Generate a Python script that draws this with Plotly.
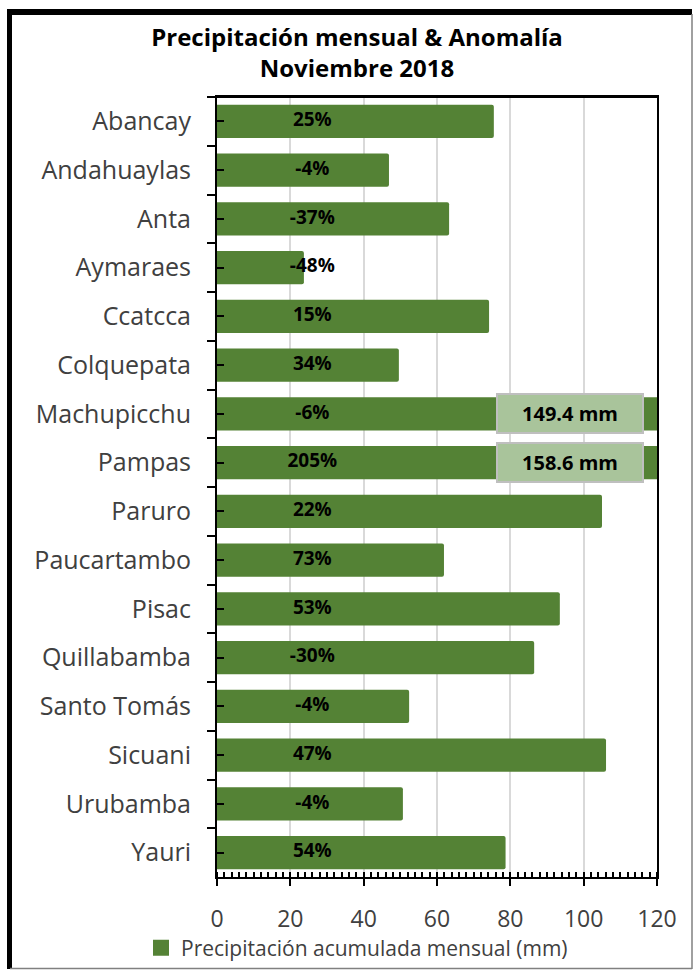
import plotly.graph_objects as go

estaciones = ["Abancay", "Andahuaylas", "Anta", "Aymaraes", "Ccatcca", "Colquepata",
              "Machupicchu", "Pampas", "Paruro", "Paucartambo", "Pisac", "Quillabamba",
              "Santo Tomás", "Sicuani", "Urubamba", "Yauri"]
precip_mm = [75.5, 46.9, 63.3, 23.7, 74.2, 49.6, 149.4, 158.6, 105.0, 61.9, 93.5,
             86.5, 52.4, 106.1, 50.7, 78.7]
anomalia = ["25%", "-4%", "-37%", "-48%", "15%", "34%", "-6%", "205%", "22%", "73%",
            "53%", "-30%", "-4%", "47%", "-4%", "54%"]
x_ticks = [0, 20, 40, 60, 80, 100, 120]

FONT = "Open Sans"
GREEN = "#548235"
W, H = 694, 971
L, R, T, B = 217, 37, 97, 94
PW, PH = W - L - R, H - T - B


def px(x):
    return (x - L) / PW


def py(y):
    return (H - B - y) / PH


fig = go.Figure()
fig.add_trace(go.Bar(
    y=estaciones, x=precip_mm, orientation="h",
    marker=dict(color=GREEN, line=dict(width=0), cornerradius=2),
    name="Precipitación acumulada mensual (mm)", showlegend=False,
    hoverinfo="x+y",
))
fig.add_trace(go.Scatter(
    y=estaciones, x=[26] * len(estaciones), mode="text", text=anomalia,
    textfont=dict(family=FONT, size=19, color="black", weight="bold"),
    textposition="middle center", showlegend=False, hoverinfo="skip",
))
# legend entry
fig.add_trace(go.Scatter(
    y=[None], x=[None], mode="markers",
    marker=dict(symbol="square", size=18, color=GREEN),
    name="Precipitación acumulada mensual (mm)", showlegend=True, hoverinfo="skip",
))
fig.add_trace(go.Scatter(
    y=estaciones, x=[None] * len(estaciones), yaxis="y2", mode="markers",
    showlegend=False, hoverinfo="skip",
))

# labels of bars exceeding the axis
for est, val in zip(estaciones, precip_mm):
    if val > x_ticks[-1]:
        fig.add_annotation(
            x=96.3, y=est, xref="x", yref="y", text=f"<b>{val:.1f} mm</b>",
            showarrow=False, font=dict(family=FONT, size=20, color="black"),
            bgcolor="#a9c49b", bordercolor="#bfbfbf", borderwidth=2,
            width=142, height=35,
        )

# top border of plot area
fig.add_shape(type="line", xref="paper", yref="paper", x0=0, x1=1, y0=1, y1=1,
              line=dict(color="black", width=2))
# outer frame
fig.add_shape(type="line", xref="paper", yref="paper", x0=px(7), x1=px(692),
              y0=py(12), y1=py(12), line=dict(color="black", width=6))
fig.add_shape(type="line", xref="paper", yref="paper", x0=px(9.5), x1=px(9.5),
              y0=py(9), y1=py(969), line=dict(color="black", width=5))
fig.add_shape(type="line", xref="paper", yref="paper", x0=px(692), x1=px(692),
              y0=py(14), y1=py(969), line=dict(color="#808080", width=1.5))
fig.add_shape(type="line", xref="paper", yref="paper", x0=px(10), x1=px(692),
              y0=py(968.5), y1=py(968.5), line=dict(color="#808080", width=1.5))

fig.update_layout(
    width=W, height=H,
    margin=dict(l=L, r=R, t=T, b=B, autoexpand=False),
    paper_bgcolor="white", plot_bgcolor="white",
    bargap=0.32,
    title=dict(text="<b>Precipitación mensual & Anomalía<br>Noviembre 2018</b>",
               x=357 / W, xanchor="center", y=1 - 46 / H, yanchor="middle",
               font=dict(family=FONT, size=24, color="black")),
    font=dict(family=FONT, color="#404040"),
    xaxis=dict(range=[0, 120], tickvals=x_ticks, showgrid=True,
               gridcolor="#d9d9d9", gridwidth=2, automargin=False,
               showline=True, linecolor="black", linewidth=2, mirror=True,
               ticks="outside", ticklen=7, tickwidth=2, tickcolor="black",
               ticklabelstandoff=13,
               minor=dict(dtick=2, ticks="inside", ticklen=5, tickwidth=1.5,
                          tickcolor="black", showgrid=False),
               tickfont=dict(family=FONT, size=23, color="#404040"),
               zeroline=False, fixedrange=True),
    yaxis=dict(type="category", categoryorder="array", categoryarray=estaciones,
               range=[len(estaciones) - 0.5, -0.5], automargin=False,
               showline=True, linecolor="black", linewidth=2, mirror=True,
               ticks="outside", tickson="boundaries", ticklen=8, tickwidth=2,
               tickcolor="black", ticklabelstandoff=19,
               tickfont=dict(family=FONT, size=25, color="#404040"),
               showgrid=False, zeroline=False, fixedrange=True),
    yaxis2=dict(type="category", categoryorder="array", categoryarray=estaciones,
                range=[len(estaciones) - 0.5, -0.5], overlaying="y", side="left",
                showticklabels=False, ticks="inside", ticklen=7, tickwidth=2,
                tickcolor="black", showgrid=False, zeroline=False, showline=False,
                automargin=False, fixedrange=True),
    legend=dict(orientation="h", x=px(141), xanchor="left", y=py(948),
                yanchor="middle", font=dict(family=FONT, size=21, color="#404040"),
                itemwidth=30, itemsizing="trace", bgcolor="rgba(0,0,0,0)",
                borderwidth=0),
    showlegend=True,
)

fig.write_html("out.html", config={"displayModeBar": False},
               post_script="document.body.style.margin='0';"
                           "document.body.style.overflow='hidden';")
